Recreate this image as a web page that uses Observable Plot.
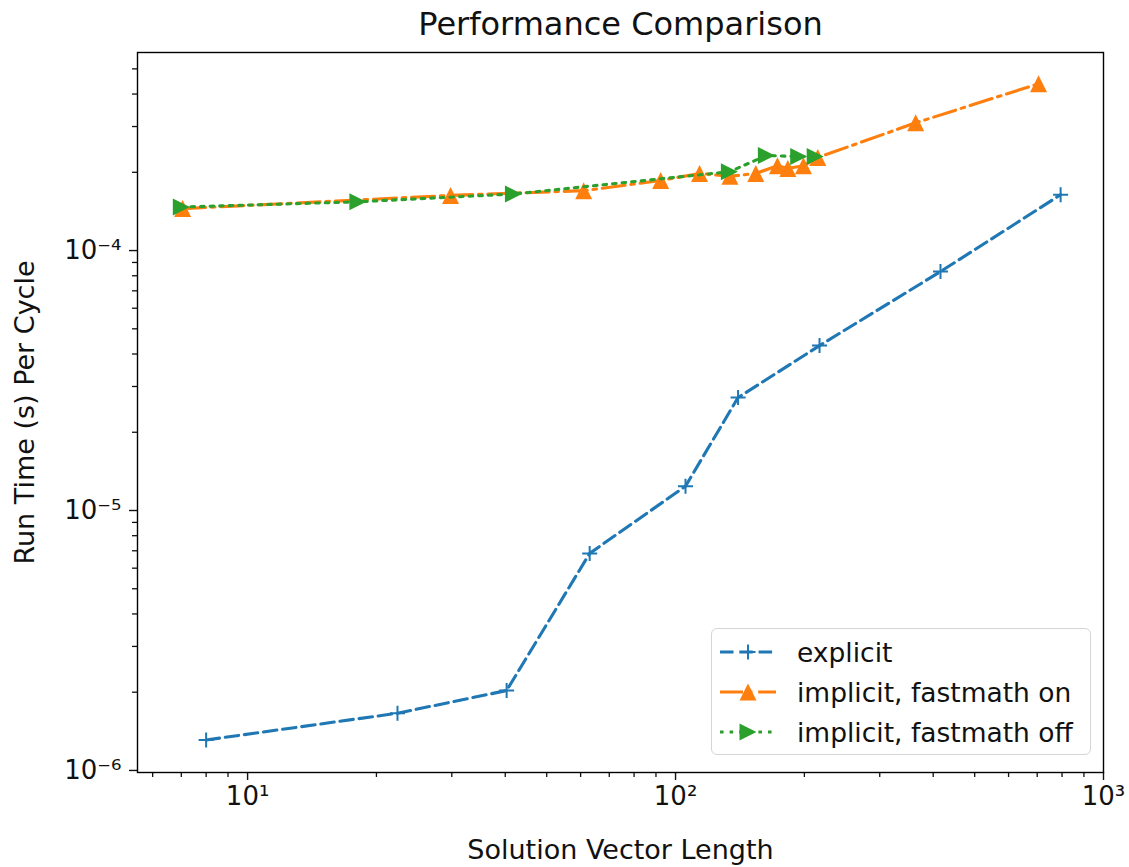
<!DOCTYPE html>
<html>
<head>
<meta charset="utf-8">
<script src="https://cdn.jsdelivr.net/npm/d3@7"></script>
<script src="https://cdn.jsdelivr.net/npm/@observablehq/plot@0.6"></script>
<style>
  body { margin: 0; background: #fff; font-family: "DejaVu Sans", sans-serif; }
  #wrap { position: relative; width: 1129px; height: 867px; }
  #wrap svg.plot { position: absolute; left: 0; top: 0; }
  #legend { position: absolute; left: 711px; top: 628px; width: 380px; height: 127px;
    box-sizing: border-box; border: 1.5px solid #d5d5d5; border-radius: 6px;
    background: rgba(255,255,255,0.85); font-family: "DejaVu Sans", sans-serif; font-size: 26.5px; color: #111; }
  .row { position: absolute; left: 0; height: 40px; display: flex; align-items: center; }
  .row svg { margin-left: 8px; }
  .row span { margin-left: 21px; white-space: nowrap; }
</style>
</head>
<body>
<div id="wrap"></div>
<script>
// ---- data ----
const titleText = "Performance Comparison";
const xLabel = "Solution Vector Length";
const yLabel = "Run Time (s) Per Cycle";
const seriesNames = ["explicit", "implicit, fastmath on", "implicit, fastmath off"];
const seriesColors = ["#1f77b4", "#ff7f0e", "#2ca02c"];

const explicitN = [8, 22.4, 40.3, 63, 105.5, 140, 217, 416, 794];
const explicitT = [1.31e-6, 1.66e-6, 2.03e-6, 6.84e-6, 1.24e-5, 2.72e-5, 4.31e-5, 8.3e-5, 1.64e-4];

const fmOnN = [7.05, 29.8, 61, 92.3, 113.8, 134, 154, 173, 183, 199, 215, 364, 705];
const fmOnT = [1.45e-4, 1.63e-4, 1.70e-4, 1.86e-4, 1.98e-4, 1.93e-4, 1.98e-4, 2.12e-4, 2.07e-4, 2.12e-4, 2.28e-4, 3.1e-4, 4.38e-4];

const fmOffN = [7.0, 18.1, 41.8, 133.6, 163, 194, 212];
const fmOffT = [1.47e-4, 1.54e-4, 1.65e-4, 2.01e-4, 2.32e-4, 2.30e-4, 2.30e-4];

const xMajorTicks = [10, 100, 1000];
const xMinorTicks = [6, 7, 8, 9, 20, 30, 40, 50, 60, 70, 80, 90, 200, 300, 400, 500, 600, 700, 800, 900];
const yMajorTicks = [1e-6, 1e-5, 1e-4];
const yMinorTicks = [2e-6, 3e-6, 4e-6, 5e-6, 6e-6, 7e-6, 8e-6, 9e-6,
                     2e-5, 3e-5, 4e-5, 5e-5, 6e-5, 7e-5, 8e-5, 9e-5,
                     2e-4, 3e-4, 4e-4, 5e-4];
const xDomain = [5.53, 1000];
const yDomain = [9.82e-7, 5.78e-4];

// ---- build tables ----
const explicitData = explicitN.map((n, i) => ({n, t: explicitT[i]}));
const fmOnData = fmOnN.map((n, i) => ({n, t: fmOnT[i]}));
const fmOffData = fmOffN.map((n, i) => ({n, t: fmOffT[i]}));

const supMap = {"-": "\u207B", "0": "\u2070", "1": "\u00B9", "2": "\u00B2", "3": "\u00B3",
  "4": "\u2074", "5": "\u2075", "6": "\u2076", "7": "\u2077", "8": "\u2078", "9": "\u2079"};
const pow10 = d => "10" + String(Math.round(Math.log10(d))).split("").map(c => supMap[c]).join("");

// matplotlib-like marker shapes
const triUp = { draw(ctx) { const h = 8.5; ctx.moveTo(0, -h); ctx.lineTo(h, h); ctx.lineTo(-h, h); ctx.closePath(); } };
const triRight = { draw(ctx) { const h = 8.5; ctx.moveTo(h, 0); ctx.lineTo(-h, -h); ctx.lineTo(-h, h); ctx.closePath(); } };
const plusSym = { draw(ctx) { const h = 7.5; ctx.moveTo(-h, 0); ctx.lineTo(h, 0); ctx.moveTo(0, -h); ctx.lineTo(0, h); } };

const LW = 3.1;
const dashes = ["13.5,5.8", "23,5.8,3.6,5.8", "3.6,6"];

const chart = Plot.plot({
  width: 1129,
  height: 867,
  marginLeft: 137,
  marginRight: 26,
  marginTop: 52,
  marginBottom: 95,
  style: { fontFamily: "DejaVu Sans, sans-serif", fontSize: "26px", color: "#111", background: "white" },
  x: { type: "log", domain: xDomain },
  y: { type: "log", domain: yDomain },
  marks: [
    Plot.axisX({ ticks: xMinorTicks, tickSize: 5, tickFormat: () => "", label: null, strokeWidth: 1.3 }),
    Plot.axisX({ ticks: xMajorTicks, tickSize: 8, tickPadding: 6, tickFormat: pow10, label: null, strokeWidth: 1.4, fontSize: 26 }),
    Plot.axisY({ ticks: yMinorTicks, tickSize: 5, tickFormat: () => "", label: null, strokeWidth: 1.3 }),
    Plot.axisY({ ticks: yMajorTicks, tickSize: 8, tickPadding: 8, tickFormat: pow10, label: null, strokeWidth: 1.4, fontSize: 26 }),

    Plot.line(explicitData, { x: "n", y: "t", stroke: seriesColors[0], strokeWidth: LW, strokeDasharray: dashes[0] }),
    Plot.dot(explicitData, { x: "n", y: "t", symbol: plusSym, stroke: seriesColors[0], strokeWidth: 2, r: 5 }),

    Plot.line(fmOnData, { x: "n", y: "t", stroke: seriesColors[1], strokeWidth: LW, strokeDasharray: dashes[1] }),
    Plot.dot(fmOnData, { x: "n", y: "t", symbol: triUp, fill: seriesColors[1], stroke: "none", r: 5 }),

    Plot.line(fmOffData, { x: "n", y: "t", stroke: seriesColors[2], strokeWidth: LW, strokeDasharray: dashes[2] }),
    Plot.dot(fmOffData, { x: "n", y: "t", symbol: triRight, fill: seriesColors[2], stroke: "none", r: 5 }),

    Plot.frame({ stroke: "black", strokeWidth: 1.4 }),

    Plot.text([titleText], { text: d => d, frameAnchor: "top", textAnchor: "middle", dy: -40, fontSize: 32, fill: "#111" }),
    Plot.text([xLabel], { text: d => d, frameAnchor: "bottom", textAnchor: "middle", dy: 86, fontSize: 27, fill: "#111" }),
    Plot.text([yLabel], { text: d => d, frameAnchor: "left", textAnchor: "middle", rotate: -90, dx: -112, fontSize: 27, fill: "#111" })
  ]
});
chart.classList.add("plot");
const wrap = document.getElementById("wrap");
wrap.appendChild(chart);

// ---- legend ----
const legend = document.createElement("div");
legend.id = "legend";
const markerSvg = [
  `<path d="M20.5,0H35.5M28,-7.5V7.5" stroke="${seriesColors[0]}" stroke-width="2"/>`,
  `<path d="M28,-8.5L36.5,8.5L19.5,8.5Z" fill="${seriesColors[1]}"/>`,
  `<path d="M36.5,0L19.5,-8.5L19.5,8.5Z" fill="${seriesColors[2]}"/>`
];
seriesNames.forEach((name, i) => {
  const row = document.createElement("div");
  row.className = "row";
  row.style.top = (3 + i * 40) + "px";
  row.innerHTML = `<svg width="56" height="24" viewBox="0 -12 56 24">
      <line x1="0" y1="0" x2="56" y2="0" stroke="${seriesColors[i]}" stroke-width="${LW}" stroke-dasharray="${dashes[i]}"/>
      ${markerSvg[i]}
    </svg><span>${name}</span>`;
  legend.appendChild(row);
});
wrap.appendChild(legend);
</script>
</body>
</html>
